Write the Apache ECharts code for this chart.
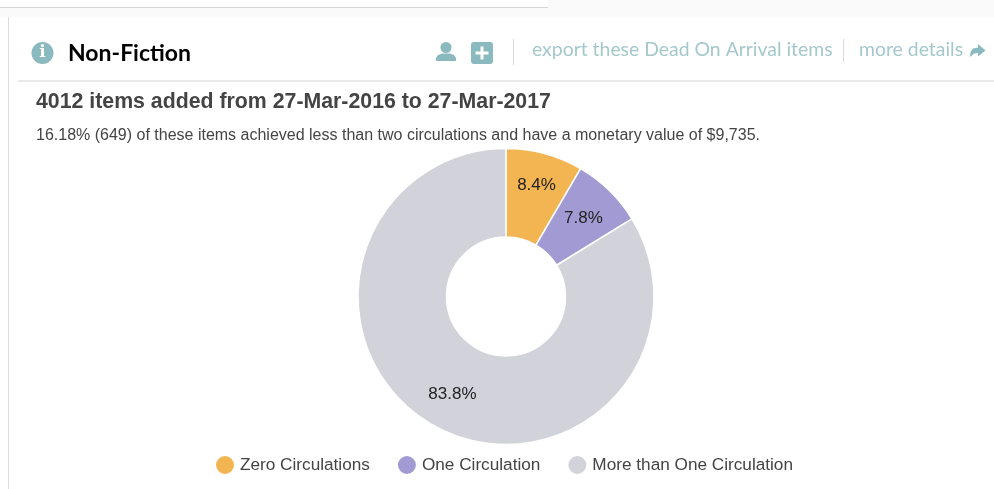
<!DOCTYPE html>
<html>
<head>
<meta charset="utf-8">
<title>Non-Fiction</title>
<script src="https://cdn.jsdelivr.net/npm/echarts@6/dist/echarts.min.js"></script>
<style>
html, body { margin: 0; padding: 0; background: #fff; }
#chart { width: 994px; height: 489px; }
</style>
</head>
<body>
<div id="chart"></div>
<script>
// data
var categories = ['Zero Circulations', 'One Circulation', 'More than One Circulation'];
var percents = [8.4, 7.8, 83.8];
var colors = ['#f2b552', '#a29bd3', '#d2d3da'];

var heading = 'Non-Fiction';
var title = '4012 items added from 27-Mar-2016 to 27-Mar-2017';
var subtitle = '16.18% (649) of these items achieved less than two circulations and have a monetary value of $9,735.';
var exportText = 'export these Dead On Arrival items';
var detailsText = 'more details';

var teal = '#8bb9c0';
var center = [506, 296.5];
// distance of each percent label from the pie centre
var labelRadius = [117, 111, 110];

var chart = echarts.init(document.getElementById('chart'), null, { renderer: 'canvas' });

// middle of a slice as an angle clockwise from the top
function midAngle(index) {
    var before = 0;
    for (var i = 0; i < index; i++) {
        before += percents[i];
    }
    return (before + percents[index] / 2) / 100 * 2 * Math.PI;
}

// header strip, card border and icons
var decor = [
    { type: 'rect', shape: { x: 0, y: 0, width: 994, height: 17 }, style: { fill: '#fafafa' } },
    { type: 'rect', shape: { x: 0, y: 0, width: 548, height: 8 }, style: { fill: '#fff' } },
    { type: 'line', shape: { x1: 0, y1: 7.5, x2: 548, y2: 7.5 }, style: { stroke: '#d4d4d4', lineWidth: 1 } },
    { type: 'line', shape: { x1: 8.5, y1: 17, x2: 8.5, y2: 489 }, style: { stroke: '#dcdcdc', lineWidth: 1 } },
    { type: 'line', shape: { x1: 18, y1: 81, x2: 994, y2: 81 }, style: { stroke: '#e2e2e2', lineWidth: 1.5 } },
    // info icon
    { type: 'circle', shape: { cx: 42.5, cy: 53, r: 11 }, style: { fill: teal } },
    { type: 'text', style: { x: 42.5, y: 53, text: 'i', fill: '#fff', font: 'bold 17px "DejaVu Serif"', align: 'center', verticalAlign: 'middle' } },
    { type: 'text', style: { x: 68, y: 54, text: heading, fill: '#000', font: 'bold 23px Lato', verticalAlign: 'middle' } },
    // user icon
    { type: 'circle', shape: { cx: 446, cy: 47.5, r: 5.5 }, style: { fill: teal } },
    { type: 'polygon', shape: { points: [[436, 61], [436, 58], [438, 55], [442, 53.5], [450, 53.5], [454, 55], [456, 58], [456, 61]] }, style: { fill: teal } },
    // plus icon
    { type: 'rect', shape: { x: 471, y: 42, width: 22, height: 22, r: 3 }, style: { fill: teal } },
    { type: 'rect', shape: { x: 475.5, y: 51.5, width: 13, height: 3 }, style: { fill: '#fff' } },
    { type: 'rect', shape: { x: 480.5, y: 46.5, width: 3, height: 13 }, style: { fill: '#fff' } },
    { type: 'line', shape: { x1: 513.5, y1: 39, x2: 513.5, y2: 65 }, style: { stroke: '#d5dcdd', lineWidth: 1 } },
    { type: 'text', style: { x: 532, y: 50, text: exportText, fill: '#a5c8cd', font: '19.4px Lato', verticalAlign: 'middle' } },
    { type: 'line', shape: { x1: 843.5, y1: 39, x2: 843.5, y2: 62 }, style: { stroke: '#d5dcdd', lineWidth: 1 } },
    { type: 'text', style: { x: 859, y: 50, text: detailsText, fill: '#a5c8cd', font: '19.4px Lato', verticalAlign: 'middle' } },
    // arrow
    { type: 'polygon', shape: { points: [[970, 57], [970.5, 52], [973, 48.5], [978, 47.5], [978, 44], [985.5, 50.5], [978, 56.5], [978, 53], [974, 53.5]] }, style: { fill: teal } }
];

var option = {
    animation: false,
    backgroundColor: '#fff',
    color: colors,
    title: [
        {
            text: title,
            left: 31,
            top: 87,
            textStyle: { color: '#444', fontFamily: 'Liberation Sans', fontSize: 21.3, fontWeight: 'bold' }
        },
        {
            text: subtitle,
            left: 31,
            top: 123,
            textStyle: { color: '#444', fontFamily: 'Liberation Sans', fontSize: 16, fontWeight: 'normal' }
        }
    ],
    legend: {
        bottom: 8,
        left: 209,
        icon: 'circle',
        itemWidth: 20,
        itemHeight: 20,
        itemGap: 26,
        textStyle: { color: '#444', fontFamily: 'Liberation Sans', fontSize: 17.2 },
        data: categories
    },
    graphic: { elements: decor },
    series: [{
        type: 'pie',
        center: center,
        radius: [59.5, 148],
        startAngle: 90,
        clockwise: true,
        percentPrecision: 1,
        silent: true,
        itemStyle: { borderColor: '#fff', borderWidth: 1.5 },
        label: {
            position: 'inside',
            formatter: '{d}%',
            color: '#222',
            fontFamily: 'Liberation Sans',
            fontSize: 17
        },
        labelLine: { show: false },
        // move each label from the middle of the ring to its own radius
        labelLayout: function (params) {
            var r = params.labelRect;
            var a = midAngle(params.dataIndex);
            var targetX = center[0] + labelRadius[params.dataIndex] * Math.sin(a);
            var targetY = center[1] + 1.5 - labelRadius[params.dataIndex] * Math.cos(a);
            return { dx: targetX - (r.x + r.width / 2), dy: targetY - (r.y + r.height / 2) };
        },
        data: categories.map(function (name, i) {
            return { name: name, value: percents[i] };
        })
    }]
};

chart.setOption(option);
</script>
</body>
</html>
